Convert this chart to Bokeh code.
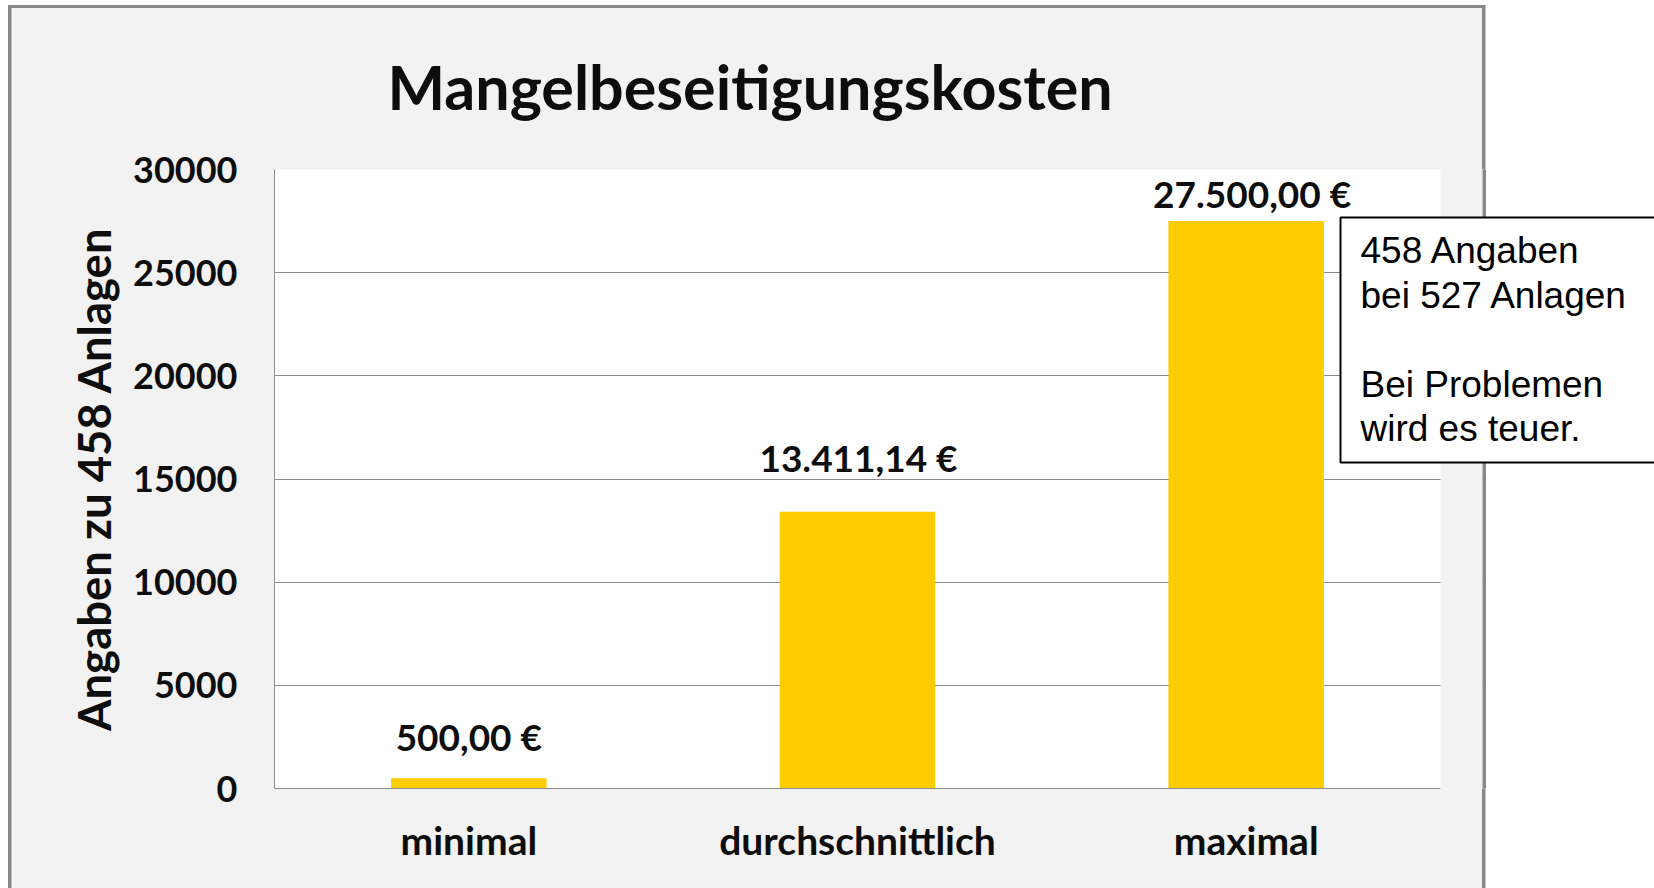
from bokeh.plotting import figure
from bokeh.models import ColumnDataSource, LabelSet, Label, BoxAnnotation, FixedTicker, Range1d
from bokeh.core.properties import value
from bokeh.embed import file_html
from bokeh.resources import INLINE

# ---- data ----
categories = ["minimal", "durchschnittlich", "maximal"]
costs = [500.00, 13411.14, 27500.00]
y_ticks = [0, 5000, 10000, 15000, 20000, 25000, 30000]
title_text = "Mangelbeseitigungskosten"
y_axis_title = "Angaben zu 458 Anlagen"
note_lines = ["458 Angaben", "bei 527 Anlagen", "", "Bei Problemen", "wird es teuer."]

# ---- styles / layout (not data) ----
label_offsets_y_px = [42, 54, 28]   # how far each value label floats above its bar
label_offsets_x_px = [0, 1, 6]
W, H = 1654, 888
FL, PR, FT, FB = 274, 1440, 169, 788   # plot-area edges in px (frame extends to right edge)
Y_MAX = 30000
BAR_COLOR = "#FFCC00"
GRID = "#8c8c8c"
FRAME = "#898989"
PANEL = "#f2f2f2"
TXT = "#0d0d0d"
N = len(categories)
X_MAX = N * (W - FL) / (PR - FL)


def euro(v):
    s = f"{v:,.2f}".replace(",", "X").replace(".", ",").replace("X", ".")
    return s + " €"


def sx(px):
    return (px - FL) / (PR - FL) * N


def sy(py):
    return (FB - py) / (FB - FT) * Y_MAX


css = {
    "background-color": "white",
    "background-image": ", ".join([f"linear-gradient({FRAME}, {FRAME})"] * 3
                                  + [f"linear-gradient({PANEL}, {PANEL})"]),
    "background-position": "8px 5px, 8px 5px, 1482px 5px, 8px 5px",
    "background-size": "3.5px 900px, 1477px 3.3px, 3.5px 900px, 1477px 900px",
    "background-repeat": "no-repeat",
}

p = figure(x_range=Range1d(0, X_MAX), y_range=Range1d(0, Y_MAX), width=W, height=H,
           output_backend="svg", toolbar_location=None,
           min_border_left=FL, min_border_right=0,
           min_border_top=FT, min_border_bottom=H - FB, styles=css)

p.border_fill_color = None
p.background_fill_color = "white"
p.outline_line_color = None

x_pos = [i + 0.5 for i in range(N)]
src = ColumnDataSource(dict(x=x_pos, cost=costs, txt=[euro(v) for v in costs],
                            offy=label_offsets_y_px, offx=label_offsets_x_px))
p.vbar(x="x", top="cost", width=0.4, source=src, fill_color=BAR_COLOR, line_color=None)

# title
p.title.text = title_text
p.title.align = "left"
p.title.offset = 113
p.title.standoff = 93
p.title.text_font = "Lato"
p.title.text_font_style = "bold"
p.title.text_font_size = "61px"
p.title.text_color = TXT

# axes
p.yaxis.ticker = FixedTicker(ticks=y_ticks)
p.ygrid.ticker = FixedTicker(ticks=y_ticks)
p.yaxis.major_label_text_font = "Lato"
p.yaxis.major_label_text_font_style = "bold"
p.yaxis.major_label_text_font_size = "36px"
p.yaxis.major_label_text_color = TXT
p.yaxis.major_label_standoff = 37
p.yaxis.major_tick_out = 0
p.yaxis.major_tick_in = 0
p.yaxis.major_tick_line_color = None
p.yaxis.minor_tick_line_color = None
p.yaxis.axis_line_color = GRID
p.yaxis.axis_label = y_axis_title
p.yaxis.axis_label_text_font = "Lato"
p.yaxis.axis_label_text_font_style = "bold"
p.yaxis.axis_label_text_font_size = "45.5px"
p.yaxis.axis_label_text_color = TXT
p.yaxis.axis_label_standoff = 9

p.xaxis.ticker = FixedTicker(ticks=x_pos)
p.xaxis.major_label_overrides = {x: c for x, c in zip(x_pos, categories)}
p.xaxis.bounds = (0, N)
p.xaxis.major_label_text_font = "Lato"
p.xaxis.major_label_text_font_style = "bold"
p.xaxis.major_label_text_font_size = "39px"
p.xaxis.major_label_text_color = TXT
p.xaxis.major_label_standoff = 28
p.xaxis.major_tick_out = 0
p.xaxis.major_tick_in = 0
p.xaxis.major_tick_line_color = None
p.xaxis.minor_tick_line_color = None
p.xaxis.axis_line_color = GRID

p.xgrid.grid_line_color = None
p.ygrid.grid_line_color = GRID

p.add_layout(LabelSet(x="x", y="cost", text="txt", x_offset="offx", y_offset="offy",
                      source=src, text_align="center", text_baseline="middle",
                      text_font=value("Lato"), text_font_style="bold",
                      text_font_size=value("37px"), text_color=TXT))

# grey strip between plot area and chart frame, frame line, white page beyond
p.add_layout(BoxAnnotation(left=N, right=sx(1482), top=sy(0), bottom=sy(900),
                           fill_color=PANEL, fill_alpha=1.0, line_color=None))
p.add_layout(BoxAnnotation(left=sx(1482), right=sx(1485.5), top=sy(0), bottom=sy(900),
                           fill_color=FRAME, fill_alpha=1.0, line_color=None))
p.add_layout(BoxAnnotation(left=sx(1485.5), right=sx(1800), top=sy(0), bottom=sy(900),
                           fill_color="white", fill_alpha=1.0, line_color=None))
# note box
p.add_layout(BoxAnnotation(left=sx(1340), right=sx(1800), top=sy(217), bottom=sy(462),
                           fill_color="white", fill_alpha=1.0,
                           line_color="black", line_alpha=1.0, line_width=2))
for i, line in enumerate(note_lines):
    if line:
        p.add_layout(Label(x=sx(1360), y=sy(250 + 44.5 * i), text=line,
                           text_align="left", text_baseline="alphabetic",
                           text_font="Liberation Sans", text_font_size="37px",
                           text_color="black"))

open("out.html", "w").write(file_html(p, INLINE, title="Mangelbeseitigungskosten"))
